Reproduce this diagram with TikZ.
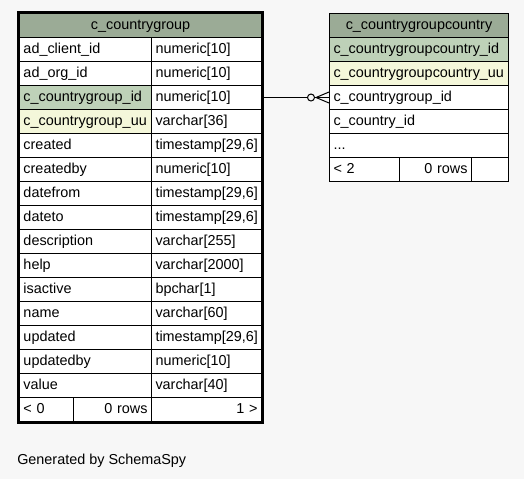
\documentclass[tikz,border=0pt]{standalone}
\usepackage{fontspec}
\setmainfont{Liberation Sans}
\usetikzlibrary{calc}
\definecolor{bgc}{HTML}{F7F7F7}
\definecolor{hdr}{HTML}{9BAB96}
\definecolor{pkc}{HTML}{BED1B8}
\definecolor{uuc}{HTML}{F4F7DA}
\tikzset{
  cellbase/.style={draw=black, line width=0.75pt, anchor=north west, minimum height=18pt,
    inner xsep=3pt, inner ysep=0pt, text height=7.8pt, text depth=2.4pt,
    font=\fontsize{10.8}{13}\selectfont},
  conn/.style={draw=black, line width=0.75pt},
  thickborder/.style={draw=black, line width=2.25pt},
}
\newcommand\mycell[7]{%
  \pgfmathsetmacro\mytw{(#4-8)*0.75}%
  \node[cellbase, fill=#5, minimum width=#4*0.75pt, text width=\mytw pt, align=#6] (#1) at (#2,#3) {#7};}
\begin{document}
\begin{tikzpicture}[x=0.75pt,y=-0.75pt]
\useasboundingbox (0,0) rectangle (524,479);
\fill[bgc] (0,0) rectangle (524,479);
% table 1
\mycell{t1h}{19}{13}{242}{hdr}{center}{c\_countrygroup}
\mycell{t1n1}{19}{37}{132}{white}{left}{ad\_client\_id}
\mycell{t1t1}{151}{37}{110}{white}{left}{numeric[10]}
\mycell{t1n2}{19}{61}{132}{white}{left}{ad\_org\_id}
\mycell{t1t2}{151}{61}{110}{white}{left}{numeric[10]}
\mycell{t1n3}{19}{85}{132}{pkc}{left}{c\_countrygroup\_id}
\mycell{t1t3}{151}{85}{110}{white}{left}{numeric[10]}
\mycell{t1n4}{19}{109}{132}{uuc}{left}{c\_countrygroup\_uu}
\mycell{t1t4}{151}{109}{110}{white}{left}{varchar[36]}
\mycell{t1n5}{19}{133}{132}{white}{left}{created}
\mycell{t1t5}{151}{133}{110}{white}{left}{timestamp[29,6]}
\mycell{t1n6}{19}{157}{132}{white}{left}{createdby}
\mycell{t1t6}{151}{157}{110}{white}{left}{numeric[10]}
\mycell{t1n7}{19}{181}{132}{white}{left}{datefrom}
\mycell{t1t7}{151}{181}{110}{white}{left}{timestamp[29,6]}
\mycell{t1n8}{19}{205}{132}{white}{left}{dateto}
\mycell{t1t8}{151}{205}{110}{white}{left}{timestamp[29,6]}
\mycell{t1n9}{19}{229}{132}{white}{left}{description}
\mycell{t1t9}{151}{229}{110}{white}{left}{varchar[255]}
\mycell{t1n10}{19}{253}{132}{white}{left}{help}
\mycell{t1t10}{151}{253}{110}{white}{left}{varchar[2000]}
\mycell{t1n11}{19}{277}{132}{white}{left}{isactive}
\mycell{t1t11}{151}{277}{110}{white}{left}{bpchar[1]}
\mycell{t1n12}{19}{301}{132}{white}{left}{name}
\mycell{t1t12}{151}{301}{110}{white}{left}{varchar[60]}
\mycell{t1n13}{19}{325}{132}{white}{left}{updated}
\mycell{t1t13}{151}{325}{110}{white}{left}{timestamp[29,6]}
\mycell{t1n14}{19}{349}{132}{white}{left}{updatedby}
\mycell{t1t14}{151}{349}{110}{white}{left}{numeric[10]}
\mycell{t1n15}{19}{373}{132}{white}{left}{value}
\mycell{t1t15}{151}{373}{110}{white}{left}{varchar[40]}
\mycell{t1f1}{19}{397}{54}{white}{left}{< 0}
\mycell{t1f2}{73}{397}{78}{white}{right}{0 rows}
\mycell{t1f3}{151}{397}{110}{white}{right}{1 >}
\draw[thickborder] (18,12) rectangle (262,422);
% table 2
\mycell{t2h}{329}{13}{179}{hdr}{center}{c\_countrygroupcountry}
\mycell{t2n1}{329}{37}{179}{pkc}{left}{c\_countrygroupcountry\_id}
\mycell{t2n2}{329}{61}{179}{uuc}{left}{c\_countrygroupcountry\_uu}
\mycell{t2n3}{329}{85}{179}{white}{left}{c\_countrygroup\_id}
\mycell{t2n4}{329}{109}{179}{white}{left}{c\_country\_id}
\mycell{t2n5}{329}{133}{179}{white}{left}{...}
\mycell{t2f1}{329}{157}{70}{white}{left}{< 2}
\mycell{t2f2}{399}{157}{72}{white}{right}{0 rows}
\mycell{t2f3}{471}{157}{37}{white}{left}{}
% connector
\draw[conn] (t1t3.east) -- ($(t2n3.west)+(-21.5,0)$);
\draw[conn] ($(t2n3.west)+(-18,0)$) circle[radius=3.5];
\draw[conn] ($(t2n3.west)+(-14.5,0)$) -- (t2n3.west);
\draw[conn] ($(t2n3.west)+(0,-5.5)$) -- ($(t2n3.west)+(-13,0)$) -- ($(t2n3.west)+(0,5.5)$);
% footer text
\node[anchor=base west, inner sep=0pt, font=\fontsize{10.8}{13}\selectfont] (gen) at (17,464) {Generated by SchemaSpy};
\end{tikzpicture}
\end{document}
